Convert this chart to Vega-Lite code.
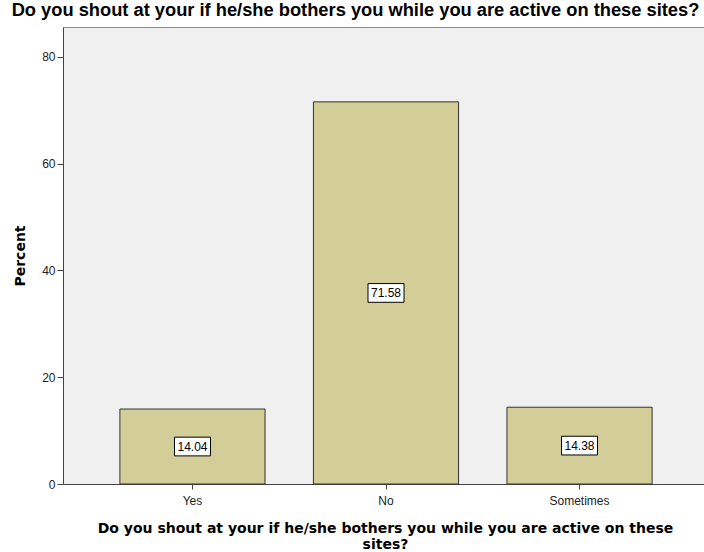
{
  "$schema": "https://vega.github.io/schema/vega-lite/v6.json",
  "autosize": {"type": "none"},
  "width": 641,
  "height": 457,
  "padding": {"left": 63, "top": 27, "right": 0, "bottom": 68},
  "background": "white",
  "config": {
    "font": "Liberation Sans",
    "view": {"fill": "#F0F0F0", "stroke": "#8a8a8a", "strokeWidth": 1}
  },
  "title": {
    "text": "Do you shout at your if he/she bothers you while you are active on these sites?",
    "font": "Liberation Sans",
    "fontSize": 18.3,
    "fontWeight": "bold",
    "color": "black",
    "anchor": "middle",
    "dx": -28,
    "offset": 7
  },
  "data": {
    "values": [
      {"answer": "Yes", "Percent": 14.04},
      {"answer": "No", "Percent": 71.58},
      {"answer": "Sometimes", "Percent": 14.38}
    ]
  },
  "encoding": {
    "x": {
      "field": "answer",
      "type": "nominal",
      "sort": ["Yes", "No", "Sometimes"],
      "scale": {"range": [0, 646], "paddingInner": 0.25, "paddingOuter": 0.294},
      "axis": {
        "title": ["Do you shout at your if he/she bothers you while you are active on these", "sites?"],
        "titleFont": "DejaVu Sans",
        "titleFontSize": 14,
        "titleFontWeight": "bold",
        "titleColor": "black",
        "titlePadding": 15,
        "titleLineHeight": 16,
        "titleX": 322,
        "labelAngle": 0,
        "labelFont": "Liberation Sans",
        "labelFontSize": 12,
        "labelColor": "#222",
        "labelPadding": 6,
        "tickSize": 5,
        "tickColor": "#444",
        "domainColor": "#444",
        "grid": false
      }
    }
  },
  "layer": [
    {
      "mark": {"type": "bar", "fill": "#D3CE97", "stroke": "#333333", "strokeWidth": 1},
      "encoding": {
        "y": {
          "field": "Percent",
          "type": "quantitative",
          "scale": {"domain": [0, 85.6], "nice": false},
          "axis": {
            "values": [0, 20, 40, 60, 80],
            "title": "Percent",
            "titleFont": "DejaVu Sans",
            "titleFontSize": 14,
            "titleFontWeight": "bold",
            "titleColor": "black",
            "titlePadding": 14,
            "labelFont": "Liberation Sans",
            "labelFontSize": 12,
            "labelColor": "#222",
            "labelPadding": 2,
            "tickSize": 6,
            "tickColor": "#444",
            "domainColor": "#444",
            "grid": false
          }
        }
      }
    },
    {
      "transform": [{"calculate": "datum.Percent / 2", "as": "mid"}],
      "mark": {
        "type": "point",
        "shape": "M-1,-0.52H1V0.52H-1Z",
        "size": 1296,
        "filled": true,
        "fill": "white",
        "stroke": "black",
        "strokeWidth": 1,
        "opacity": 1
      },
      "encoding": {
        "y": {"field": "mid", "type": "quantitative", "scale": {"domain": [0, 85.6], "nice": false}}
      }
    },
    {
      "transform": [{"calculate": "datum.Percent / 2", "as": "mid"}],
      "mark": {"type": "text", "font": "Liberation Sans", "fontSize": 12, "color": "black", "baseline": "middle", "align": "center"},
      "encoding": {
        "y": {"field": "mid", "type": "quantitative", "scale": {"domain": [0, 85.6], "nice": false}},
        "text": {"field": "Percent", "type": "quantitative", "format": ".2f"}
      }
    }
  ]
}
